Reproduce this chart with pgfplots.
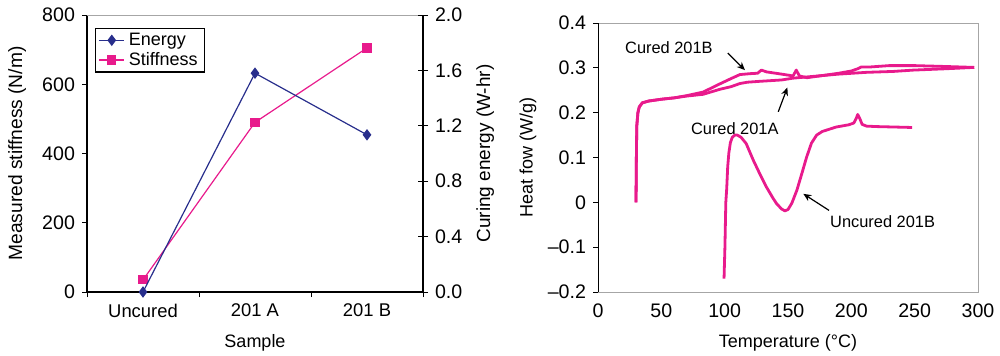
\documentclass[border=0pt]{standalone}
\usepackage{pgfplots}
\pgfplotsset{compat=1.18}
\usepackage{fontspec}
\setmainfont{Liberation Sans}
\usetikzlibrary{arrows.meta}
\definecolor{mag}{RGB}{232,26,140}
\definecolor{nav}{RGB}{40,46,140}
\begin{document}
\begin{tikzpicture}
\useasboundingbox (0,0) rectangle (500pt,177.5pt);
\pgfplotsset{every axis/.append style={
  scale only axis, font=\fontsize{9.8}{11}\selectfont,
  /pgf/number format/assume math mode=true,
  tick style={black, line width=0.5pt},
  label style={font=\fontsize{9}{11}\selectfont}}}
% ---------- left chart, stiffness ----------
\begin{axis}[at={(43.5pt,31.5pt)}, anchor=south west, width=168pt, height=138.5pt,
  xmin=-0.5, xmax=2.5, ymin=0, ymax=800,
  axis lines*=left, axis line style={-, line width=0.6pt},
  xtick={0,1,2}, xticklabels={Uncured,201 A,201 B},
  xticklabel style={font=\fontsize{9.2}{11}\selectfont},
  major x tick style={draw=none},
  minor xtick={-0.5,0.5,1.5,2.5}, minor tick length=2.5pt,
  ytick={0,200,400,600,800}, major tick length=2.5pt, tick align=outside,
  xlabel={Sample}, ylabel={Measured stiffness (N/m)},
  xlabel style={at={(axis description cs:0.5,-0.184)}, anchor=center},
  ylabel style={at={(axis description cs:-0.208,0.5)}, anchor=center, font=\fontsize{9.6}{11}\selectfont},
  clip=false]
\addplot[mag, line width=0.6pt, mark=square*, mark size=2pt] coordinates {(0,35) (1,490) (2,705)};
\draw[gray!70, line width=0.5pt] (rel axis cs:0,1) -- (rel axis cs:1,1);
\end{axis}
% ---------- left chart, energy ----------
\begin{axis}[at={(43.5pt,31.5pt)}, anchor=south west, width=168pt, height=138.5pt,
  xmin=-0.5, xmax=2.5, ymin=0, ymax=2,
  axis x line=none, axis y line*=right, axis line style={-, line width=0.6pt},
  ytick={0,0.4,0.8,1.2,1.6,2.0}, yticklabels={0.0,0.4,0.8,1.2,1.6,2.0},
  tick align=center, major tick length=5pt,
  ylabel={Curing energy (W-hr)},
  ylabel style={at={(axis description cs:1.185,0.5)}, anchor=center, font=\fontsize{9.5}{11}\selectfont},
  legend cell align=left,
  legend style={at={(0.024,0.953)}, anchor=north west, draw=black, line width=0.6pt,
    font=\fontsize{9}{9}\selectfont, inner xsep=1.5pt, inner ysep=0pt, row sep=-2pt},
  legend image code/.code={\draw[mark repeat=2,mark phase=2] plot coordinates {(0cm,0cm) (0.22cm,0cm) (0.44cm,0cm)};},
  clip=false]
\addplot[nav, line width=0.6pt, mark=diamond*, mark size=2.4pt] coordinates {(0,0) (1,1.58) (2,1.135)};
\addlegendentry{Energy}
\addlegendimage{mag, line width=0.6pt, mark=square*, mark size=2pt}
\addlegendentry{Stiffness}
\end{axis}
% ---------- right chart ----------
\begin{axis}[at={(299pt,31.5pt)}, anchor=south west, width=190pt, height=134.5pt,
  xmin=0, xmax=300, ymin=-0.2, ymax=0.4,
  axis line style={gray!70, line width=0.5pt},
  xtick={0,50,100,150,200,250,300}, major x tick style={draw=none},
  ytick={-0.2,-0.1,0,0.1,0.2,0.3,0.4}, yticklabels={--0.2,--0.1,0,0.1,0.2,0.3,0.4},
  ytick pos=left, xtick pos=bottom, tick align=outside, major tick length=2.5pt,
  xlabel={Temperature (°C)}, ylabel={Heat fow (W/g)},
  xlabel style={at={(axis description cs:0.5,-0.19)}, anchor=center},
  ylabel style={at={(axis description cs:-0.184,0.5)}, anchor=center}]
% Cured 201B
\addplot[mag, line width=1.4pt, line join=round] coordinates {
(30,0) (30.3,0.10) (30.6,0.17) (31.5,0.20) (32.6,0.213) (35,0.222) (40,0.226) (50,0.230)
(60,0.233) (70,0.238) (83,0.246) (96,0.264) (105,0.276) (112,0.285) (120,0.287) (126,0.288)
(129,0.295) (133,0.291) (145,0.286) (154,0.282) (156.5,0.295) (159,0.282) (165,0.278)
(175,0.282) (190,0.288) (200,0.293) (205,0.298) (208,0.302) (215,0.302) (230,0.305)
(250,0.305) (275,0.303) (297,0.301)};
% Cured 201A
\addplot[mag, line width=1.4pt, line join=round] coordinates {
(30,0) (30.3,0.10) (30.6,0.17) (31.5,0.20) (32.6,0.213) (35,0.222) (40,0.226) (50,0.230)
(60,0.233) (70,0.237) (83,0.241) (96,0.252) (105,0.258) (112,0.265) (118,0.268) (128,0.270)
(145,0.273) (154,0.277) (170,0.281) (190,0.286) (212,0.290) (233,0.292) (249,0.295)
(275,0.298) (297,0.301)};
% Uncured 201B
\addplot[mag, line width=1.4pt, line join=round] coordinates {
(99.5,-0.170) (100.2,-0.10) (100.9,0.0) (101.6,0.03) (102.4,0.08) (103.3,0.11) (104.5,0.133)
(106,0.145) (108,0.150) (110,0.150) (113,0.145) (117,0.131) (122.6,0.094) (128,0.062)
(133,0.034) (138,0.010) (141,-0.003) (145,-0.015) (147.6,-0.019) (150,-0.016) (153,-0.002)
(157,0.027) (161,0.065) (164.7,0.101) (168.5,0.132) (172.6,0.150) (177,0.158) (188,0.168)
(198,0.173) (202,0.177) (204,0.188) (205,0.196) (206.5,0.188) (208.5,0.174) (212,0.170)
(220,0.169) (248,0.167)};
\draw[black, line width=0.6pt] (rel axis cs:0,0) -- (rel axis cs:0,1);
\begin{scope}[font=\fontsize{8.2}{9}\selectfont]
\node at (axis cs:56,0.344) {Cured 201B};
\node at (axis cs:108,0.165) {Cured 201A};
\node at (axis cs:224.7,-0.044) {Uncured 201B};
\draw[-{Stealth[length=4pt,width=3.5pt]}, line width=0.6pt] (axis cs:102.4,0.333) -- (axis cs:116,0.295);
\draw[-{Stealth[length=4pt,width=3.5pt]}, line width=0.6pt] (axis cs:142.3,0.202) -- (axis cs:149.5,0.256);
\draw[-{Stealth[length=4pt,width=3.5pt]}, line width=0.6pt] (axis cs:182.4,-0.018) -- (axis cs:162.1,0.019);
\end{scope}
\end{axis}
\end{tikzpicture}
\end{document}
